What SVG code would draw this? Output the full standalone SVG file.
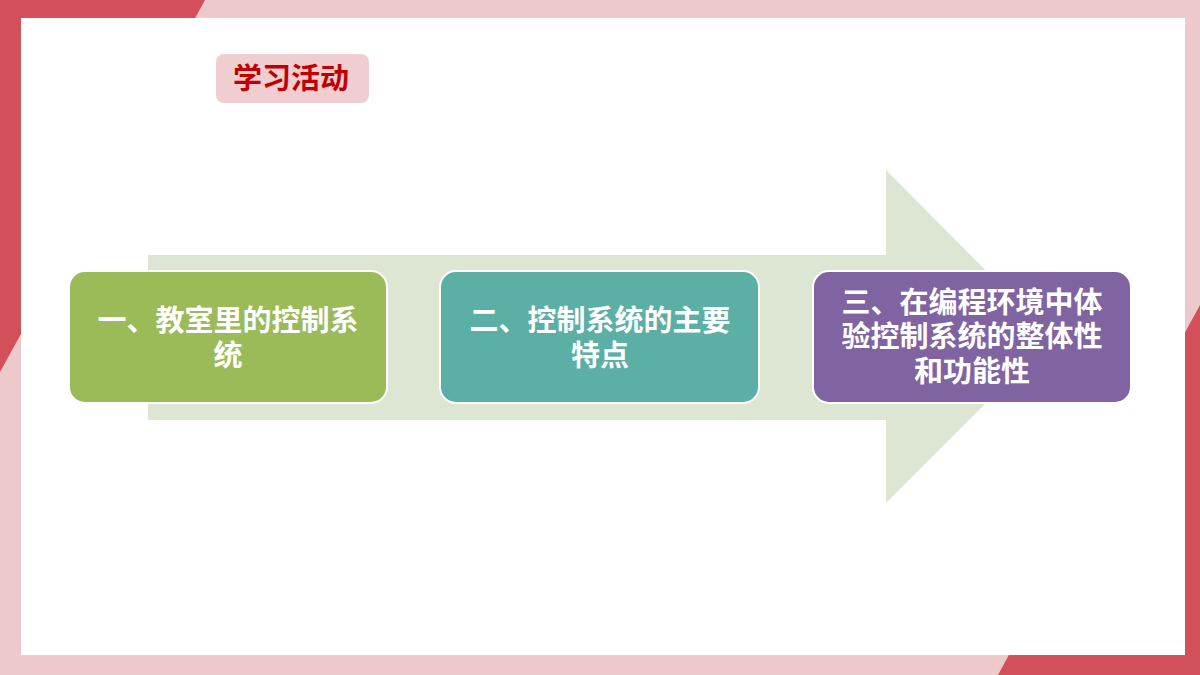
<svg xmlns="http://www.w3.org/2000/svg" width="1200" height="675" viewBox="0 0 1200 675">
<style>
.box{stroke:#fff;stroke-width:2}
.t{font-family:"Noto Sans CJK SC",sans-serif;font-weight:bold;font-size:29px;fill:#fff;text-anchor:middle}
</style>
<rect width="1200" height="675" fill="#EEC9CC"/>
<polygon points="0,0 205,0 0,372" fill="#D2505A"/>
<polygon points="1200,675 998,675 1200,305" fill="#D2505A"/>
<rect x="21" y="18" width="1164" height="637" fill="#fff"/>
<g id="title"><rect x="216" y="54" width="153" height="49" rx="8" fill="#EFCDD0"/>
<text x="291" y="89" font-family="Noto Sans CJK SC,sans-serif" font-weight="bold" font-size="29" fill="#C00000" text-anchor="middle">学习活动</text></g>
<g id="connectors"><polygon points="148,255 886,255 886,170 1052,337 886,503 886,420 148,420" fill="#DDE5D3"/></g>
<g id="n1"><rect class="box" x="69" y="271" width="318" height="132" rx="16" fill="#9BBB59"/>
<text class="t" x="228" y="331">一、教室里的控制系</text><text class="t" x="228" y="366">统</text></g>
<g id="n2"><rect class="box" x="440" y="271" width="319" height="132" rx="16" fill="#5BAFA5"/>
<text class="t" x="600" y="331">二、控制系统的主要</text><text class="t" x="600" y="366">特点</text></g>
<g id="n3"><rect class="box" x="813" y="271" width="318" height="132" rx="16" fill="#8064A2"/>
<text class="t" x="972" y="313">三、在编程环境中体</text><text class="t" x="972" y="347">验控制系统的整体性</text><text class="t" x="972" y="382">和功能性</text></g>
</svg>
